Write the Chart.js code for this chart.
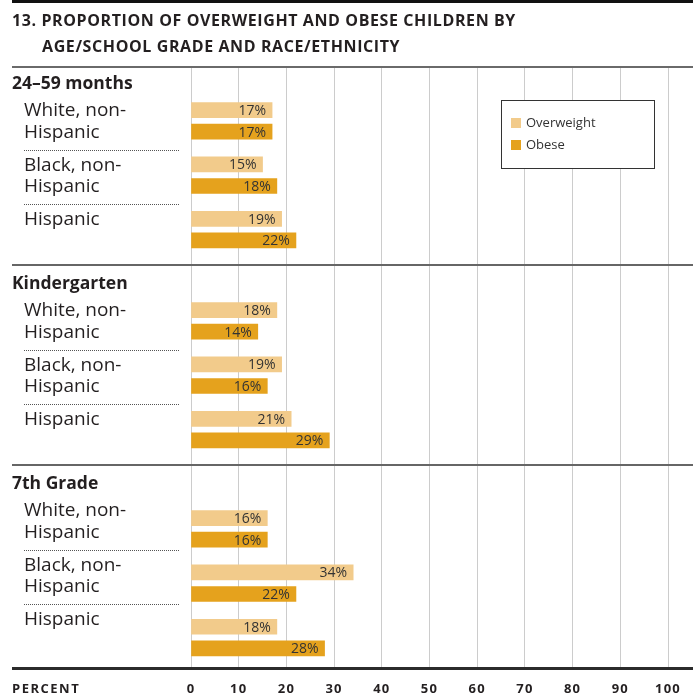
<!DOCTYPE html>
<html>
<head>
<meta charset="utf-8">
<script src="https://cdn.jsdelivr.net/npm/chart.js@4/dist/chart.umd.min.js"></script>
<style>
  html, body { margin: 0; padding: 0; background: #fff; }
</style>
</head>
<body>
<canvas id="obesity" width="693" height="696"></canvas>
<script>
var titleLines = ['13. PROPORTION OF OVERWEIGHT AND OBESE CHILDREN BY', 'AGE/SCHOOL GRADE AND RACE/ETHNICITY'];
var groups = ['24–59 months', 'Kindergarten', '7th Grade'];
var races = [['White, non-', 'Hispanic'], ['Black, non-', 'Hispanic'], ['Hispanic']];
var seriesNames = ['Overweight', 'Obese'];
// one value per race, groups in order
var overweight = [17, 15, 19, 18, 19, 21, 16, 34, 18];
var obese = [17, 18, 22, 14, 16, 29, 16, 22, 28];
var percentTicks = [0, 10, 20, 30, 40, 50, 60, 70, 80, 90, 100];

var colors = ['#f2cb8b', '#e5a21d'];
var ink = '#231f20';
var font = "'Open Sans', 'Noto Sans', sans-serif";

// vertical layout in bar rows (one row = gap between the two bars of a race)
var groupRows = 9.27, headerRow = 0.74, firstRow = 1.95, raceRows = 2.52, ruleRow = -0.15;
var barLift = [0, 0, 0.37];

function rowOf(g, r, k) {
  return g * groupRows + firstRow + r * raceRows + k;
}

function points(values, k) {
  return values.map(function (v, i) {
    var g = Math.floor(i / 3);
    return { x: v, y: rowOf(g, i % 3, k) + barLift[g] };
  });
}

var decor = {
  id: 'decor',
  beforeDraw: function (chart) {
    chart.ctx.letterSpacing = '1.2px';
  },
  beforeDatasetsDraw: function (chart) {
    var ctx = chart.ctx, y = chart.scales.y;
    ctx.save();
    // group rules
    ctx.fillStyle = '#666';
    for (var g = 1; g < groups.length; g++) {
      ctx.fillRect(12, Math.round(y.getPixelForValue(g * groupRows + ruleRow)) - 1, 681, 2);
    }
    // dotted lines between races
    ctx.strokeStyle = '#555';
    ctx.lineWidth = 1;
    ctx.setLineDash([1, 1]);
    for (g = 0; g < groups.length; g++) {
      for (var r = 0; r < races.length - 1; r++) {
        var py = Math.round(y.getPixelForValue(rowOf(g, r, 1.85))) + 0.5;
        ctx.beginPath();
        ctx.moveTo(24, py);
        ctx.lineTo(180, py);
        ctx.stroke();
      }
    }
    ctx.restore();
  },
  afterDatasetsDraw: function (chart) {
    var ctx = chart.ctx;
    ctx.save();
    ctx.letterSpacing = '0px';
    ctx.font = '14px ' + font;
    ctx.fillStyle = '#333';
    ctx.textAlign = 'right';
    ctx.textBaseline = 'middle';
    chart.data.datasets.forEach(function (ds, d) {
      chart.getDatasetMeta(d).data.forEach(function (bar, i) {
        ctx.fillText(ds.data[i].x + '%', bar.x - 6, bar.y + 1);
      });
    });
    ctx.restore();
  },
  afterDraw: function (chart) {
    var ctx = chart.ctx, y = chart.scales.y, area = chart.chartArea;
    ctx.save();
    ctx.letterSpacing = '0px';

    // top rule, title, title rule
    ctx.fillStyle = '#111';
    ctx.fillRect(12, 0, 681, 3);
    ctx.fillStyle = ink;
    ctx.font = 'bold 16px ' + font;
    ctx.textBaseline = 'middle';
    ctx.letterSpacing = '0.6px';
    ctx.fillText(titleLines[0], 12, 21);
    ctx.fillText(titleLines[1], 42, 47);
    ctx.fillStyle = '#6a6a6a';
    ctx.fillRect(12, 66, 681, 2);

    // bottom axis rule
    ctx.fillStyle = '#2b2b2b';
    ctx.fillRect(12, area.bottom - 1, 681, 3);

    // group headers and race labels
    ctx.letterSpacing = '0px';
    ctx.fillStyle = ink;
    groups.forEach(function (name, g) {
      ctx.font = 'bold 17.5px ' + font;
      ctx.fillText(name, 12, y.getPixelForValue(g * groupRows + headerRow));
      ctx.font = '19px ' + font;
      races.forEach(function (lines, r) {
        lines.forEach(function (line, k) {
          ctx.fillText(line, 24, y.getPixelForValue(rowOf(g, r, k)) + 1);
        });
      });
    });

    // axis caption
    ctx.font = 'bold 13px ' + font;
    ctx.letterSpacing = '1.5px';
    ctx.fillText('PERCENT', 12, 689);

    // legend
    ctx.letterSpacing = '0px';
    ctx.fillStyle = '#fff';
    ctx.fillRect(501, 100, 154, 69);
    ctx.strokeStyle = '#333';
    ctx.lineWidth = 1;
    ctx.strokeRect(501.5, 100.5, 153, 68);
    ctx.font = '13px ' + font;
    chart.data.datasets.forEach(function (ds, d) {
      ctx.fillStyle = ds.backgroundColor;
      ctx.fillRect(511, 118 + d * 22, 10, 10);
      ctx.fillStyle = '#333';
      ctx.fillText(ds.label, 526, 123 + d * 22);
    });
    ctx.restore();
  }
};

new Chart(document.getElementById('obesity'), {
  type: 'bar',
  data: {
    datasets: seriesNames.map(function (name, d) {
      return {
        label: name,
        data: points(d === 0 ? overweight : obese, d),
        backgroundColor: colors[d],
        borderWidth: 0,
        barThickness: 15,
        grouped: false
      };
    })
  },
  options: {
    indexAxis: 'y',
    responsive: false,
    animation: false,
    devicePixelRatio: 1,
    layout: { padding: { left: 191, right: 25, top: 68, bottom: 0 } },
    plugins: { legend: { display: false }, tooltip: { enabled: false } },
    scales: {
      x: {
        type: 'linear',
        min: 0,
        max: 100,
        afterBuildTicks: function (axis) {
          axis.ticks = percentTicks.map(function (v) { return { value: v }; });
        },
        afterFit: function (axis) {
          axis.height = 28;
        },
        grid: { color: '#cccccc', lineWidth: 1, drawTicks: false },
        border: { display: false },
        ticks: {
          color: ink,
          padding: 13,
          font: { family: font, size: 13, weight: 'bold' }
        }
      },
      y: {
        type: 'linear',
        min: 0,
        max: groups.length * groupRows,
        reverse: true,
        offset: false,
        grid: { offset: false },
        display: false
      }
    }
  },
  plugins: [decor]
});
</script>
</body>
</html>
